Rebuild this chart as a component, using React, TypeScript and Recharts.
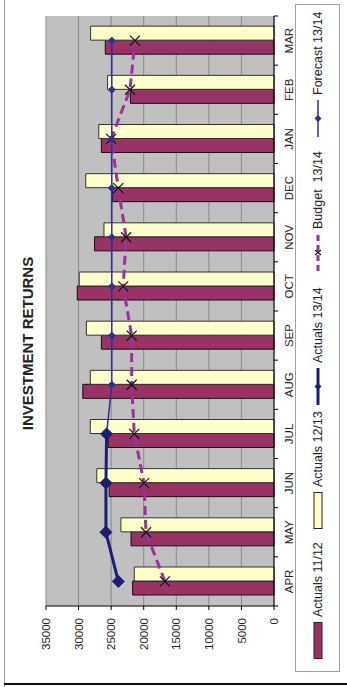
import React from 'react';
import { ComposedChart, Bar, Line, XAxis, YAxis, CartesianGrid } from 'recharts';

// Monthly figures, April to March
const months = ['APR', 'MAY', 'JUN', 'JUL', 'AUG', 'SEP', 'OCT', 'NOV', 'DEC', 'JAN', 'FEB', 'MAR'];
const actuals1112 = [21700, 21950, 25300, 25450, 29350, 26500, 30200, 27550, 24800, 26500, 22050, 25900];
const actuals1213 = [21450, 23500, 27200, 28200, 28200, 28800, 29900, 26100, 28900, 26900, 25550, 28150];
const actuals1314 = [23900, 25800, 25800, 25700, null, null, null, null, null, null, null, null];
const budget1314 = [16750, 19650, 19950, 21450, 21850, 21850, 23150, 22700, 23900, 25000, 22100, 21350];
const forecast1314 = [null, null, null, 25700, 24900, 24900, 24900, 24900, 24900, 24900, 24900, 24900];
const valueTicks = [0, 5000, 10000, 15000, 20000, 25000, 30000, 35000];

const seriesNames = ['Actuals 11/12', 'Actuals 12/13', 'Actuals 13/14', 'Budget  13/14', 'Forecast 13/14'];

const rows = months.map((m, i) => ({
  month: m,
  a1112: actuals1112[i],
  a1213: actuals1213[i],
  a1314: actuals1314[i],
  budget: budget1314[i],
  forecast: forecast1314[i],
}));

// chart is laid out landscape, then turned a quarter to stand upright
const W = 687;
const H = 347;
const PLOT_LEFT = 81;
const PLOT_RIGHT = 671;
const BAND = (PLOT_RIGHT - PLOT_LEFT) / months.length;

const FONT = '"Liberation Sans", Arial, sans-serif';
const PLUM = '#993366';
const CREAM = '#FFFFCC';
const NAVY = '#1e1e70';
const FORECAST = '#2f2f95';
const BUDGET = '#993399';

const CategoryTick = (props: any) => {
  const { x, y, payload, index } = props;
  return (
    <g>
      <line x1={x - BAND / 2} x2={x - BAND / 2} y1={y} y2={y + 4} stroke="#000" />
      {index === months.length - 1 && (
        <line x1={x + BAND / 2} x2={x + BAND / 2} y1={y} y2={y + 4} stroke="#000" />
      )}
      <text x={x} y={y + 15} textAnchor="middle" dominantBaseline="central" fontSize={11.5} fill="#222" fontFamily={FONT}>
        {payload.value}
      </text>
    </g>
  );
};

const Diamond = (size: number, color: string) => (props: any) => {
  const { cx, cy, index } = props;
  if (cx == null || cy == null || props.value == null) return <g key={index} />;
  const s = size;
  return (
    <polygon
      key={index}
      points={`${cx},${cy - s} ${cx + s},${cy} ${cx},${cy + s} ${cx - s},${cy}`}
      fill={color}
      stroke={color}
    />
  );
};

const Cross = (props: any) => {
  const { cx, cy, index } = props;
  if (cx == null || cy == null) return <g key={index} />;
  const s = 5;
  return (
    <path
      key={index}
      d={`M${cx - s},${cy - s}L${cx + s},${cy + s}M${cx - s},${cy + s}L${cx + s},${cy - s}`}
      stroke="#111"
      strokeWidth={1.2}
      fill="none"
    />
  );
};

// legend keys, left edge of each entry
const legendLeft = [28, 158, 282, 416, 550];

const LegendKey = ({ i }: { i: number }) => {
  if (i === 0 || i === 1) {
    return (
      <svg width={37} height={10}>
        <rect x={0.5} y={1} width={36} height={8} fill={i === 0 ? PLUM : CREAM} stroke="#222" />
      </svg>
    );
  }
  if (i === 2) {
    return (
      <svg width={37} height={10}>
        <line x1={0} x2={37} y1={5} y2={5} stroke={NAVY} strokeWidth={3} />
        <polygon points="18.5,1.5 22,5 18.5,8.5 15,5" fill={NAVY} />
      </svg>
    );
  }
  if (i === 3) {
    return (
      <svg width={37} height={10}>
        <line x1={0} x2={37} y1={5} y2={5} stroke={BUDGET} strokeWidth={3} strokeDasharray="6 4" />
        <path d="M16,2L21,8M16,8L21,2" stroke="#111" strokeWidth={1.1} />
      </svg>
    );
  }
  return (
    <svg width={37} height={10}>
      <line x1={0} x2={37} y1={5} y2={5} stroke={FORECAST} strokeWidth={1.5} />
      <polygon points="18.5,1.5 22,5 18.5,8.5 15,5" fill={FORECAST} />
    </svg>
  );
};

export default function App() {
  return (
    <div style={{ position: 'absolute', left: 0, top: 0, width: H, height: W, background: '#fff', overflow: 'hidden' }}>
      <div
        style={{
          position: 'absolute',
          left: 0,
          top: 0,
          width: W,
          height: H,
          transformOrigin: '0 0',
          transform: `translate(0px, ${W}px) rotate(-90deg)`,
          fontFamily: FONT,
        }}
      >
        {/* page frame */}
        <div style={{ position: 'absolute', left: 0, top: 4, width: W, height: 1, background: '#9a9a9a' }} />
        <div style={{ position: 'absolute', left: 2, top: 4, width: 2, height: H - 4, background: '#111' }} />

        <div
          style={{
            position: 'absolute',
            left: 0,
            top: 19,
            width: W,
            textAlign: 'center',
            fontWeight: 'bold',
            fontSize: 15,
            lineHeight: '18px',
            color: '#222',
          }}
        >
          INVESTMENT RETURNS
        </div>

        <ComposedChart
          width={W}
          height={H}
          data={rows}
          margin={{ top: 46, right: 16, bottom: 43, left: 0 }}
          barGap={0}
          style={{ position: 'absolute', left: 0, top: 0 }}
        >
          <CartesianGrid vertical={false} fill="#c0c0c0" stroke="#8a8a8a" />
          <XAxis
            dataKey="month"
            height={30}
            tickSize={0}
            tickMargin={0}
            tickLine={false}
            axisLine={{ stroke: '#000' }}
            tick={<CategoryTick />}
            interval={0}
          />
          <YAxis
            domain={[0, 35000]}
            ticks={valueTicks}
            width={81}
            tickSize={4}
            tickMargin={8}
            axisLine={{ stroke: '#000' }}
            tickLine={{ stroke: '#000' }}
            tick={{ fontSize: 11.5, fill: '#222', fontFamily: FONT }}
          />
          <YAxis yAxisId="edge" orientation="right" width={0} tick={false} tickLine={false} axisLine={{ stroke: '#8a8a8a' }} />
          <Bar dataKey="a1112" name={seriesNames[0]} fill={PLUM} stroke="#111" strokeWidth={1} barSize={14} isAnimationActive={false} />
          <Bar dataKey="a1213" name={seriesNames[1]} fill={CREAM} stroke="#333" strokeWidth={1} barSize={14} isAnimationActive={false} />
          <Line
            dataKey="budget"
            name={seriesNames[3]}
            type="linear"
            stroke={BUDGET}
            strokeWidth={3}
            strokeDasharray="9 5"
            dot={Cross}
            activeDot={false}
            isAnimationActive={false}
          />
          <Line
            dataKey="forecast"
            name={seriesNames[4]}
            type="linear"
            stroke={FORECAST}
            strokeWidth={1.5}
            dot={Diamond(3.5, FORECAST)}
            activeDot={false}
            isAnimationActive={false}
          />
          <Line
            dataKey="a1314"
            name={seriesNames[2]}
            type="linear"
            stroke={NAVY}
            strokeWidth={3}
            dot={Diamond(6, NAVY)}
            activeDot={false}
            isAnimationActive={false}
          />
        </ComposedChart>

        {/* legend */}
        <div
          style={{
            position: 'absolute',
            left: 15,
            top: 295,
            width: 668,
            height: 45,
            border: '1px solid #a0a0a0',
            boxSizing: 'border-box',
          }}
        />
        {seriesNames.map((name, i) => (
          <div
            key={name}
            style={{
              position: 'absolute',
              left: legendLeft[i],
              top: 310,
              height: 16,
              display: 'flex',
              alignItems: 'center',
              whiteSpace: 'pre',
              fontSize: 12.5,
              color: '#222',
            }}
          >
            <LegendKey i={i} />
            <span style={{ marginLeft: 5 }}>{name}</span>
          </div>
        ))}
      </div>
    </div>
  );
}
